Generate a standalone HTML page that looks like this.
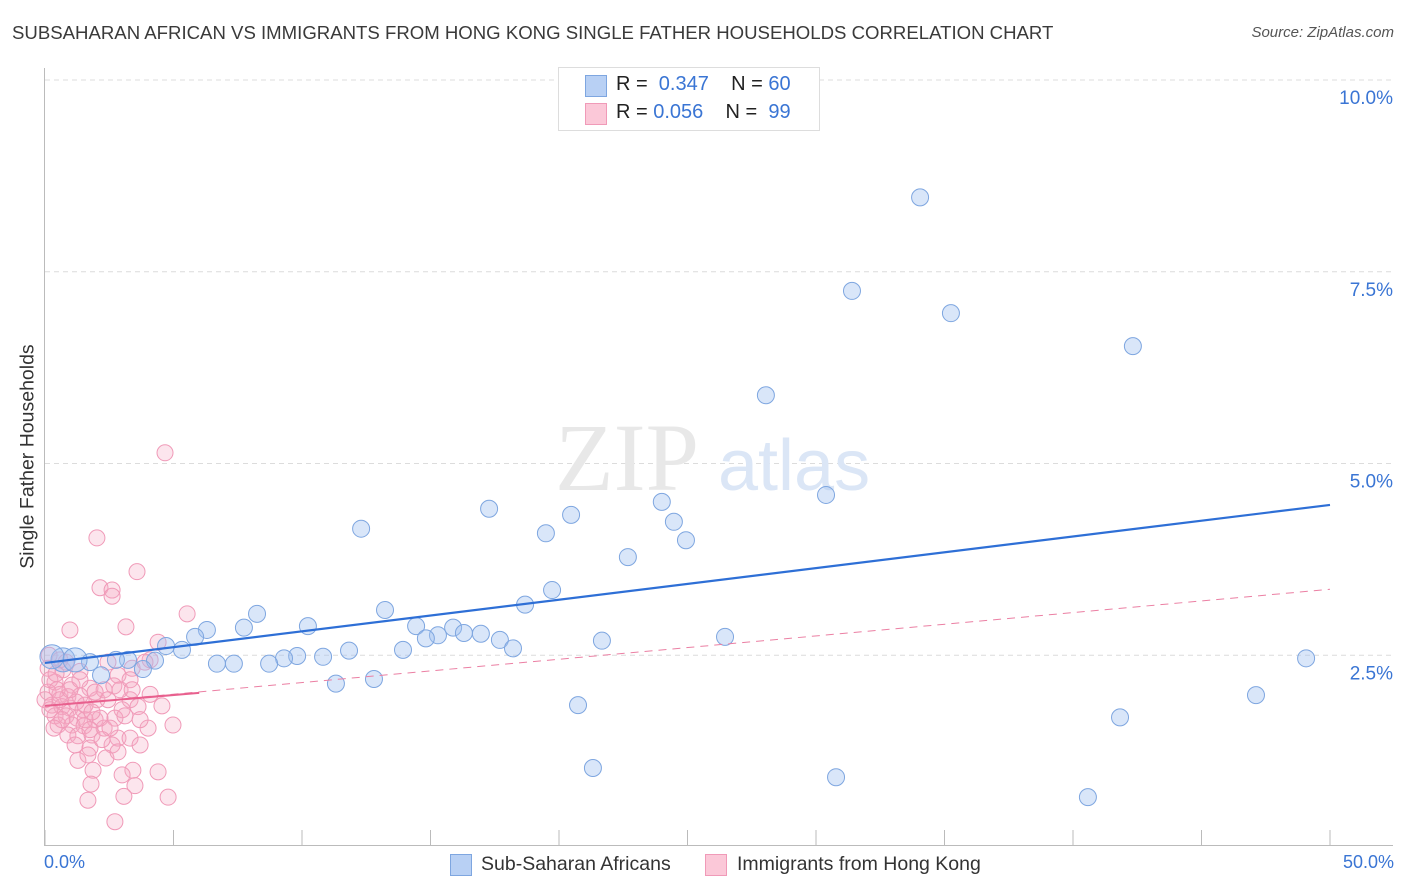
<!DOCTYPE html>
<html><head><meta charset="utf-8">
<style>
body{margin:0;background:#fff;font-family:"Liberation Sans",sans-serif;}
#wrap{position:relative;width:1406px;height:892px;overflow:hidden;}
.t{position:absolute;white-space:nowrap;}
</style></head>
<body>
<div id="wrap">
<div class="t" style="left:12px;top:22px;font-size:18.6px;color:#3a3a3a;">SUBSAHARAN AFRICAN VS IMMIGRANTS FROM HONG KONG SINGLE FATHER HOUSEHOLDS CORRELATION CHART</div>
<div class="t" style="right:12px;top:24px;font-size:15px;color:#555;font-style:italic;">Source: ZipAtlas.com</div>
<div class="t" style="left:-92px;top:445px;font-size:19.5px;color:#333;transform:rotate(-90deg);transform-origin:center;width:240px;text-align:center;">Single Father Households</div>
<svg id="plot" width="1406" height="892" style="position:absolute;left:0;top:0"></svg>
<div class="t" style="left:558px;top:67px;width:260px;height:62px;border:1px solid #ddd;background:#fff;"></div>
<div class="t" style="left:585px;top:75px;width:20px;height:20px;background:#b8d0f4;border:1px solid #7ea6e0;"></div>
<div class="t" style="left:585px;top:103px;width:20px;height:20px;background:#fbc8d8;border:1px solid #f09ab8;"></div>
<div class="t" style="left:616px;top:73px;font-size:20px;color:#222;">R = &nbsp;<span style="color:#3a75d4">0.347</span>&nbsp;&nbsp;&nbsp; N = <span style="color:#3a75d4">60</span></div>
<div class="t" style="left:616px;top:101px;font-size:20px;color:#222;">R = <span style="color:#3a75d4">0.056</span>&nbsp;&nbsp;&nbsp; N = &nbsp;<span style="color:#3a75d4">99</span></div>
<div class="t" style="left:44px;top:852px;font-size:18px;color:#3a75d4;">0.0%</div>
<div class="t" style="right:12px;top:852px;font-size:18px;color:#3a75d4;">50.0%</div>
<div class="t" style="left:450px;top:854px;width:20px;height:20px;background:#b8d0f4;border:1px solid #7ea6e0;"></div>
<div class="t" style="left:481px;top:853px;font-size:19.5px;color:#333;">Sub-Saharan Africans</div>
<div class="t" style="left:705px;top:854px;width:20px;height:20px;background:#fbc8d8;border:1px solid #f09ab8;"></div>
<div class="t" style="left:737px;top:853px;font-size:19.5px;color:#333;">Immigrants from Hong Kong</div>
</div>
<script>
const yTicks=[2.5,5.0,7.5,10.0];
const yTickLabels=["2.5%","5.0%","7.5%","10.0%"];
const xTicks=[0,5,10,15,20,25,30,35,40,45,50];
const blueX=[34.05,31.4,35.25,42.33,28.05,12.3,17.28,20.47,24.0,24.47,24.94,19.49,30.39,22.68,19.73,18.68,13.23,8.25,6.3,7.74,10.23,14.44,15.88,16.3,16.96,15.29,14.82,17.7,18.21,21.67,26.46,4.71,5.33,5.84,11.83,13.93,9.81,10.82,9.3,8.72,6.69,7.35,11.32,12.8,4.28,3.81,3.23,2.76,2.18,1.75,0.7,0.27,20.74,21.32,30.78,40.58,41.83,47.12,49.07,1.17];
const blueY=[8.47,7.25,6.96,6.53,5.89,4.15,4.41,4.33,4.5,4.24,4.0,4.09,4.59,3.78,3.35,3.16,3.09,3.04,2.83,2.86,2.88,2.88,2.86,2.79,2.78,2.76,2.72,2.7,2.59,2.69,2.74,2.62,2.57,2.74,2.56,2.57,2.49,2.48,2.46,2.39,2.39,2.39,2.13,2.19,2.43,2.32,2.44,2.44,2.24,2.41,2.44,2.48,1.85,1.03,0.91,0.65,1.69,1.98,2.46,2.44];
const pinkX=[4.67,2.02,3.58,2.14,2.61,2.61,5.53,0.97,3.15,4.4,0.16,0.58,2.45,4.09,0.12,0.7,1.36,2.84,3.39,0.39,1.05,1.75,2.3,2.68,4.09,0.12,0.58,0.89,1.36,2.02,3.31,0.27,0.66,0.97,1.48,3.0,4.55,3.62,0.39,0.82,1.25,1.56,1.95,2.72,3.11,0.51,1.05,1.52,2.3,4.01,4.98,0.89,1.28,1.83,2.84,3.31,1.17,1.75,2.61,1.67,2.37,1.28,1.87,3.42,4.4,3.0,1.79,3.5,1.67,3.07,4.79,2.72,0.19,0.47,0,0.66,2.14,2.53,3.7,1.56,1.95,0.43,0.82,1.21,1.75,2.22,2.92,3.89,3.31,0.19,0.58,0.97,1.36,1.83,2.45,2.84,3.39,3.7,0.35];
const pinkY=[5.14,4.03,3.59,3.38,3.35,3.27,3.04,2.83,2.87,2.67,2.5,2.44,2.41,2.44,2.33,2.31,2.29,2.24,2.33,2.15,2.11,2.07,2.05,2.1,1.99,2.02,1.99,1.96,1.97,1.92,1.92,1.85,1.83,1.81,1.79,1.79,1.84,1.83,1.71,1.71,1.68,1.66,1.66,1.68,1.71,1.59,1.59,1.58,1.55,1.55,1.59,1.46,1.45,1.46,1.42,1.42,1.33,1.29,1.33,1.2,1.16,1.13,1.0,1.0,0.98,0.94,0.82,0.8,0.61,0.66,0.65,0.33,2.18,2.05,1.92,1.66,1.68,1.55,1.66,1.85,2.02,2.26,2.41,1.89,1.53,1.4,2.05,2.41,2.18,1.79,1.92,2.05,2.18,1.76,1.92,1.24,2.05,1.33,1.55];
const blueTrend=[2.4,4.46];
const pinkTrend=[1.84,2.01,3.36];
const pinkSolidEnd=6;

const NS="http://www.w3.org/2000/svg";
const svg=document.getElementById('plot');
const X=v=>45+v*25.7;
const Y=v=>847-v*76.7;
function mk(tag,attrs){const e=document.createElementNS(NS,tag);for(const k in attrs)e.setAttribute(k,attrs[k]);svg.appendChild(e);return e;}
yTicks.forEach((t,i)=>{
  const g=mk('line',{x1:45,x2:1393,y1:Y(t),y2:Y(t),stroke:'#dcdcdc','stroke-dasharray':'5,4','stroke-width':1});
  
  
  const tx=mk('text',{x:1393,y:Y(t)+24,'text-anchor':'end','font-size':19,fill:'#3a75d4','font-family':'Liberation Sans, sans-serif'});
  tx.textContent=yTickLabels[i];
  
  
});
let a=mk('line',{x1:44.5,x2:44.5,y1:68,y2:846,stroke:'#bbb'});


a=mk('line',{x1:45,x2:1393,y1:845.5,y2:845.5,stroke:'#bbb'});


xTicks.forEach(t=>{
  const l=mk('line',{x1:X(t),x2:X(t),y1:830,y2:846,stroke:'#bbb'});
  
  
});
const wm=mk('text',{x:555,y:490,'font-size':96,fill:'#e8e8e8','font-family':'Liberation Serif, serif'});
wm.textContent='ZIP';


const wm2=mk('text',{x:718,y:490,'font-size':72,fill:'#dbe6f6','font-family':'Liberation Sans, sans-serif'});
wm2.textContent='atlas';


pinkX.forEach((v,i)=>{
  const c=mk('circle',{cx:X(v),cy:Y(pinkY[i]),r:8,fill:'rgba(246,170,196,0.3)',stroke:'#f09ab8','stroke-width':1});
  
  
});
blueX.forEach((v,i)=>{
  const c=mk('circle',{cx:X(v),cy:Y(blueY[i]),r:(v<1.5?12:8.5),fill:'rgba(160,192,240,0.4)',stroke:'#7ea6e0','stroke-width':1});
  
  
});
let tl=mk('line',{x1:X(0),y1:Y(pinkTrend[0]),x2:X(50),y2:Y(pinkTrend[2]),stroke:'#eb7fa3','stroke-width':1,'stroke-dasharray':'8,6'});


tl=mk('line',{x1:X(0),y1:Y(pinkTrend[0]),x2:X(pinkSolidEnd),y2:Y(pinkTrend[1]),stroke:'#e8608e','stroke-width':2});


tl=mk('line',{x1:X(0),y1:Y(blueTrend[0]),x2:X(50),y2:Y(blueTrend[1]),stroke:'#2e6fd6','stroke-width':2.2});


</script>
</body></html>
